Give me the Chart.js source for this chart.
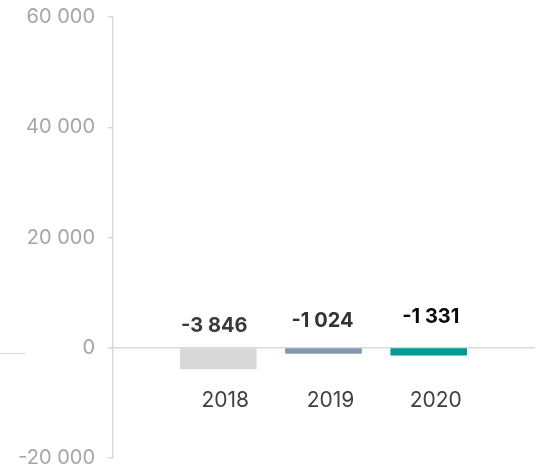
<!DOCTYPE html>
<html>
<head>
<meta charset="utf-8">
<script src="https://cdn.jsdelivr.net/npm/chart.js@4/dist/chart.umd.min.js"></script>
<style>
  html, body { margin: 0; padding: 0; background: #ffffff; }
  #wrap { width: 542px; height: 469px; position: relative; }
</style>
</head>
<body>
<div id="wrap"><canvas id="chart"></canvas></div>
<script>
// Year categories (blank slots at both ends keep the bars spaced inside the axis)
const years = ['', '2018', '2019', '2020', ''];
// Net values per year
const netValues = [null, -3846, -1024, -1331, null];
// Bar colours per year
const barColors = ['#d9d9d9', '#d9d9d9', '#8497b0', '#009b95', '#d9d9d9'];
// Value-label colours and placement relative to the zero line
const labelColors = ['#333', '#3a3a3a', '#333333', '#0a0a0a', '#333'];
const labelLift = [0, 22, 27, 31, 0];
const labelShift = [0, -4, -1, 2, 0];
// Y axis range and step
const yMin = -20000, yMax = 60000, yStep = 20000;

const fmt = v => {
  const s = Math.abs(Math.round(v)).toString().replace(/\B(?=(\d{3})+(?!\d))/g, ' ');
  return (v < 0 ? '-' : '') + s;
};

const FONT = 'Inter, "DejaVu Sans", sans-serif';

const valueLabels = {
  id: 'valueLabels',
  afterDatasetsDraw(chart) {
    const { ctx } = chart;
    const meta = chart.getDatasetMeta(0);
    const zeroY = chart.scales.y.getPixelForValue(0);
    ctx.save();
    ctx.font = 'bold 20px ' + FONT;
    ctx.textAlign = 'center';
    ctx.textBaseline = 'middle';
    meta.data.forEach((bar, i) => {
      const v = netValues[i];
      if (v === null) return;
      ctx.fillStyle = labelColors[i];
      ctx.fillText(fmt(v), bar.x + labelShift[i], zeroY - labelLift[i]);
    });
    ctx.restore();
  }
};

// short rule in the left margin, just under the zero level
const marginRule = {
  id: 'marginRule',
  beforeDraw(chart) {
    const { ctx } = chart;
    const y = Math.round(chart.scales.y.getPixelForValue(0)) + 5.5;
    ctx.save();
    ctx.strokeStyle = '#d9d9d9';
    ctx.lineWidth = 1.2;
    ctx.beginPath();
    ctx.moveTo(0, y);
    ctx.lineTo(25, y);
    ctx.stroke();
    ctx.restore();
  }
};

new Chart(document.getElementById('chart'), {
  type: 'bar',
  data: {
    labels: years,
    datasets: [{
      data: netValues,
      backgroundColor: barColors,
      barThickness: 76,
      borderWidth: 0
    }]
  },
  options: {
    responsive: true,
    maintainAspectRatio: false,
    animation: false,
    layout: { padding: { left: 13, right: 8, top: 17, bottom: 11 } },
    plugins: {
      legend: { display: false },
      tooltip: { enabled: false }
    },
    scales: {
      x: {
        position: { y: 0 },
        offset: false,
        grid: { display: false, drawTicks: false },
        border: { display: true, color: '#d9d9d9', width: 1.5 },
        ticks: {
          padding: 40,
          labelOffset: 7,
          color: '#404040',
          font: { family: FONT, size: 21 },
          maxRotation: 0,
          autoSkip: false
        },
        afterFit(s) { s.paddingLeft = 0; s.paddingRight = 0; }
      },
      y: {
        min: yMin,
        max: yMax,
        grid: {
          drawOnChartArea: false,
          drawTicks: true,
          tickLength: 5,
          color: '#d9d9d9',
          lineWidth: 1.5
        },
        border: { display: true, color: '#d9d9d9', width: 1.5 },
        ticks: {
          stepSize: yStep,
          padding: 13,
          color: '#a6a6a6',
          font: { family: FONT, size: 20 },
          callback: v => fmt(v)
        },
        afterFit(s) { s.width = 100; s.paddingTop = 0; s.paddingBottom = 0; }
      }
    }
  },
  plugins: [marginRule, valueLabels]
});
</script>
</body>
</html>
